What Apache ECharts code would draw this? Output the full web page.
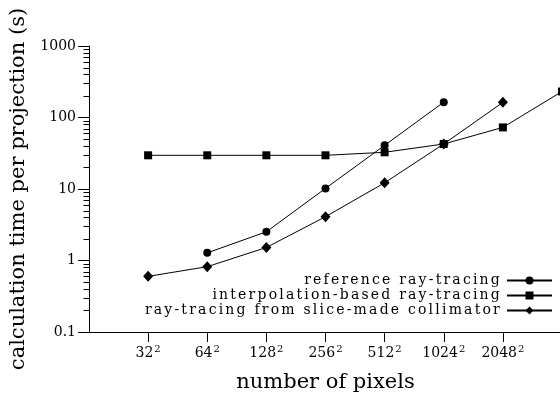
<!DOCTYPE html>
<html><head><meta charset="utf-8">
<script src="https://cdn.jsdelivr.net/npm/echarts@6/dist/echarts.min.js"></script>
<style>html,body{margin:0;padding:0;background:#fff}#c{width:560px;height:394px}</style>
</head><body><div id="c"></div>
<script>
// ---- data ----
const sideLengths = [32, 64, 128, 256, 512, 1024, 2048, 4096];
const tickSides = [32, 64, 128, 256, 512, 1024, 2048];
const referenceTimes = [null, 1.28, 2.52, 10.2, 40.8, 164, null, null];
const interpolationTimes = [29.6, 29.6, 29.6, 29.6, 32.6, 42.6, 72.7, 231];
const sliceTimes = [0.60, 0.82, 1.52, 4.1, 12.2, 42.6, 163, null];
const yDecades = [0.1, 1, 10, 100];
const minorMultipliers = [2, 3, 4, 5, 6, 7, 8, 9];
const seriesNames = ['reference ray-tracing', 'interpolation-based ray-tracing', 'ray-tracing from slice-made collimator'];
const xTitle = 'number of pixels';
const yTitle = 'calculation time per projection (s)';

// letter-spaced legend text (the reference legend is visibly tracked out)
(function () {
  const P = CanvasRenderingContext2D.prototype;
  const orig = P.fillText;
  const spaced = new Set(seriesNames);
  P.fillText = function (text, x, y, maxW) {
    const call = () => (maxW === undefined ? orig.call(this, text, x, y) : orig.call(this, text, x, y, maxW));
    if (spaced.has(text) && 'letterSpacing' in this) {
      const prev = this.letterSpacing;
      this.letterSpacing = '2.2px';
      const r = call();
      this.letterSpacing = prev;
      return r;
    }
    return call();
  };
})();

const FONT = 'DejaVu Serif';
const toPairs = (vals) => sideLengths.map((s, i) => [s, vals[i]]).filter(d => d[1] != null);
const minorTicks = [];
yDecades.forEach(d => minorMultipliers.forEach(m => minorTicks.push(d * m)));

const lineBase = {
  type: 'line', clip: false, animation: false,
  lineStyle: { color: '#000', width: 1 },
  itemStyle: { color: '#000', borderWidth: 0 },
  emphasis: { disabled: true }
};

const chart = echarts.init(document.getElementById('c'), null, { renderer: 'canvas' });
chart.setOption({
  animation: false,
  backgroundColor: '#fff',
  grid: { left: 89, top: 46, width: 473, height: 286, containLabel: false, outerBoundsMode: 'none' },
  xAxis: {
    type: 'log', logBase: 2, min: 16, max: 4096,
    axisLine: { show: true, onZero: false, lineStyle: { color: '#000', width: 1 } },
    axisTick: { show: true, customValues: tickSides, length: 10, inside: false, lineStyle: { color: '#000', width: 1 } },
    axisLabel: {
      customValues: tickSides,
      formatter: v => '{n|' + Math.round(v) + '}{s|2}',
      color: '#000', margin: 12,
      rich: {
        n: { fontFamily: FONT, fontSize: 14, color: '#000', lineHeight: 16, verticalAlign: 'bottom' },
        s: { fontFamily: FONT, fontSize: 10, color: '#000', lineHeight: 8, verticalAlign: 'top', padding: [0, 0, 0, 1] }
      }
    },
    splitLine: { show: false }, minorTick: { show: false },
    name: xTitle, nameLocation: 'middle', nameGap: 40,
    nameTextStyle: { fontFamily: FONT, fontSize: 21, color: '#000' }
  },
  yAxis: {
    type: 'log', logBase: 10, min: 0.1, max: 1000,
    axisLine: { show: true, lineStyle: { color: '#000', width: 1 } },
    axisTick: { show: true, length: 11, inside: false, lineStyle: { color: '#000', width: 1 } },
    axisLabel: { formatter: v => String(Number(Number(v).toPrecision(6))), fontFamily: FONT, fontSize: 14, color: '#000', margin: 13 },
    splitLine: { show: false },
    name: yTitle, nameLocation: 'middle', nameGap: 56,
    nameTextStyle: { fontFamily: FONT, fontSize: 21, color: '#000' }
  },
  legend: {
    data: seriesNames, orient: 'vertical', align: 'right',
    right: 7, top: 273, itemWidth: 45, itemHeight: 10, itemGap: 0, padding: 0,
    selectedMode: false,
    textStyle: { fontFamily: FONT, fontSize: 14, color: '#000', lineHeight: 15 }
  },
  series: [
    Object.assign({}, lineBase, { name: seriesNames[0], data: toPairs(referenceTimes), symbol: 'circle', symbolSize: 8 }),
    Object.assign({}, lineBase, { name: seriesNames[1], data: toPairs(interpolationTimes), symbol: 'rect', symbolSize: 8 }),
    Object.assign({}, lineBase, { name: seriesNames[2], data: toPairs(sliceTimes), symbol: 'diamond', symbolSize: [10, 11] }),
    {
      type: 'custom', silent: true, clip: false, animation: false, z: 5,
      data: minorTicks.map(v => [16, v]),
      renderItem: (params, api) => {
        const p = api.coord([api.value(0), api.value(1)]);
        const yy = Math.round(p[1]) + 0.5;
        const xx = Math.round(p[0]) + 0.5;
        return { type: 'line', shape: { x1: xx - 6, y1: yy, x2: xx, y2: yy }, style: { stroke: '#000', lineWidth: 1 } };
      }
    }
  ]
});
</script></body></html>
